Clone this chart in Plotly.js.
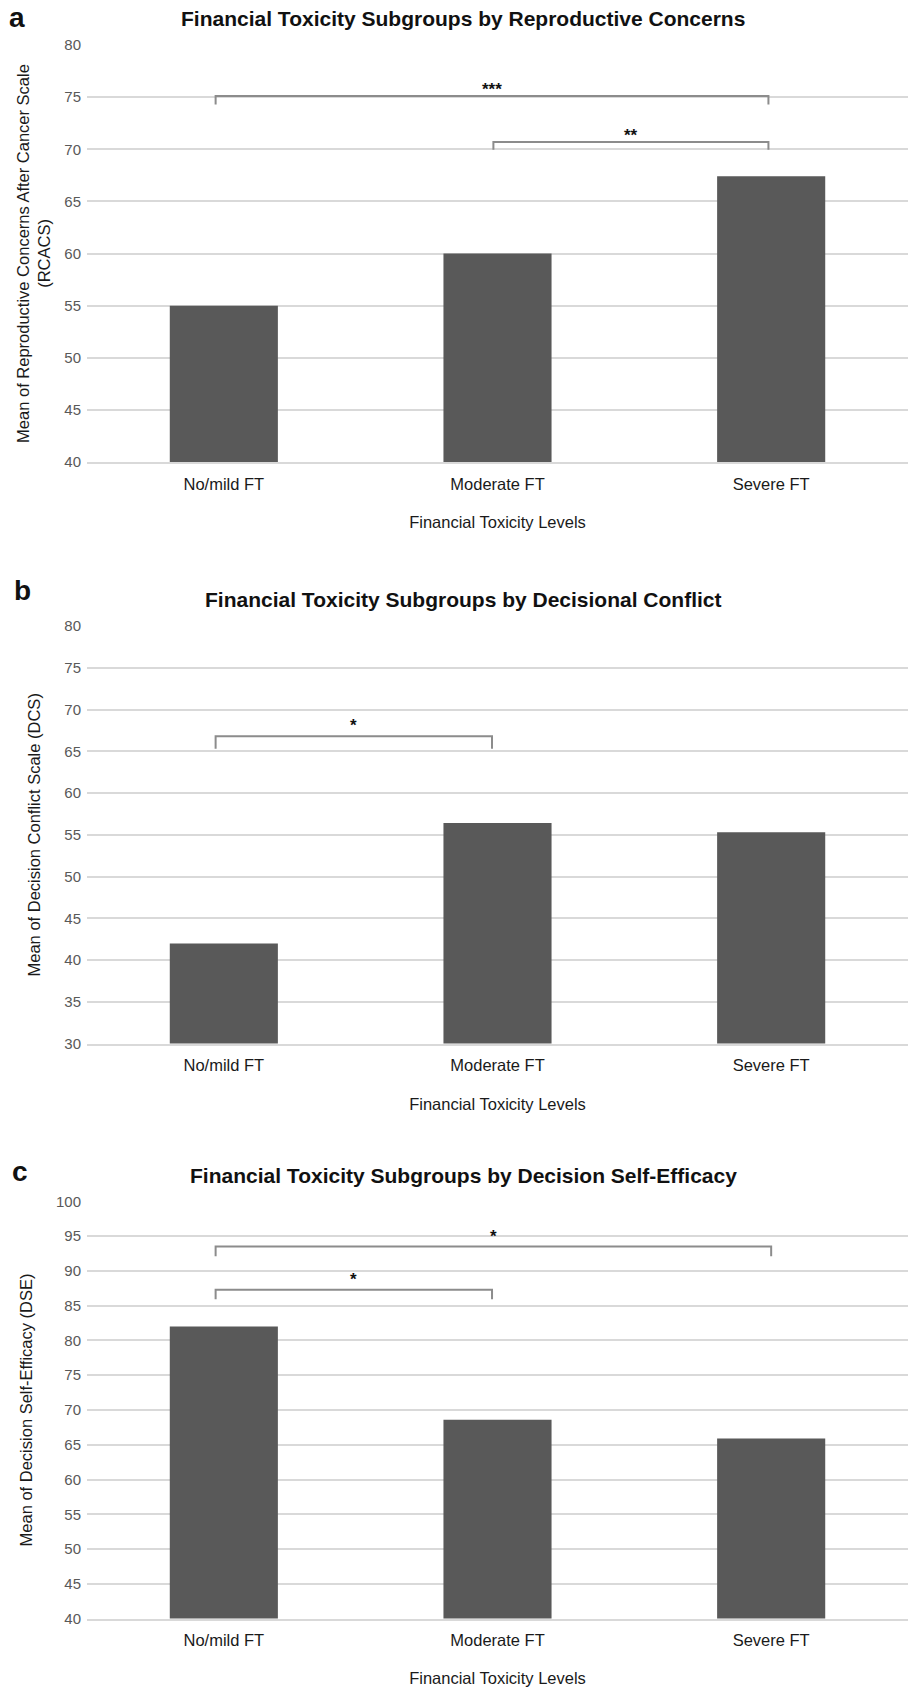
<!DOCTYPE html>
<html>
<head>
<meta charset="utf-8">
<script src="https://cdn.plot.ly/plotly-3.0.1.min.js"></script>
<style>html,body{margin:0;padding:0;background:#fff;}#chart{width:914px;height:1687px;}</style>
</head>
<body>
<div id="chart"></div>
<script>
// ---- data ----
const categories = ['No/mild FT', 'Moderate FT', 'Severe FT'];
const rcacsMeans = [55.0, 60.0, 67.4];
const dcsMeans = [42.0, 56.4, 55.3];
const dseMeans = [82.0, 68.6, 65.9];

const panelLetters = ['a', 'b', 'c'];
const panelTitles = [
  'Financial Toxicity Subgroups by Reproductive Concerns',
  'Financial Toxicity Subgroups by Decisional Conflict',
  'Financial Toxicity Subgroups by Decision Self-Efficacy'
];
const yTitles = [
  'Mean of Reproductive Concerns After Cancer Scale<br>(RCACS)',
  'Mean of Decision Conflict Scale (DCS)',
  'Mean of Decision Self-Efficacy (DSE)'
];
const xTitle = 'Financial Toxicity Levels';
const yRanges = [[40, 80], [30, 80], [40, 100]];

// significance brackets: [from, to, level, drop, label]
const bracketsA = [[-0.03, 1.99, 75.1, 0.8, '***'], [0.985, 1.99, 70.7, 0.75, '**']];
const bracketsB = [[-0.03, 0.98, 66.8, 1.5, '*']];
const bracketsC = [[-0.03, 2.0, 93.5, 1.4, '*'], [-0.03, 0.98, 87.3, 1.4, '*']];

// ---- layout helpers ----
const W = 914, H = 1687;
const xDom = [87 / W, 908 / W];
const plotPx = [[45, 462], [626, 1043.6], [1201.3, 1618.6]]; // top,bottom pixel
const titlePx = [19, 599, 1175.5];
const letterPx = [[17, 18], [22, 590], [20, 1171]];
const yTitleStandoff = [9, 19, 19];
const starShift = [-5, -1, -1];
const seriesList = [rcacsMeans, dcsMeans, dseMeans];
const bracketList = [bracketsA, bracketsB, bracketsC];

const BAR = '#595959', GRID = '#d9d9d9', BRACKET = '#8c8c8c';
const FONT = 'Arial, Liberation Sans, Helvetica, sans-serif';

const traces = [];
const layout = {
  width: W, height: H,
  margin: {l: 0, r: 0, t: 0, b: 0},
  paper_bgcolor: '#fff', plot_bgcolor: '#fff',
  showlegend: false,
  bargap: 0.605,
  font: {family: FONT, color: '#222'},
  shapes: [], annotations: []
};

for (let i = 0; i < 3; i++) {
  const s = i === 0 ? '' : String(i + 1);
  traces.push({
    type: 'bar', x: categories, y: seriesList[i],
    xaxis: 'x' + s, yaxis: 'y' + s,
    marker: {color: BAR, line: {width: 0}},
    hoverinfo: 'x+y'
  });
  const top = 1 - plotPx[i][0] / H, bot = 1 - plotPx[i][1] / H;
  layout['xaxis' + s] = {
    domain: xDom, anchor: 'y' + s, type: 'category',
    showgrid: false, zeroline: false,
    showline: true, linecolor: GRID, linewidth: 2,
    ticks: '', ticklabelstandoff: 6,
    tickfont: {family: FONT, size: 16.5, color: '#1a1a1a'},
    title: {text: xTitle, font: {family: FONT, size: 16.5, color: '#1a1a1a'}, standoff: 25},
    fixedrange: true
  };
  layout['yaxis' + s] = {
    domain: [bot, top], anchor: 'x' + s,
    range: yRanges[i], dtick: 5, tick0: 0,
    showgrid: true, gridcolor: GRID, gridwidth: 2,
    zeroline: false, showline: false, ticks: '', ticklabelstandoff: 5,
    tickfont: {family: FONT, size: 15, color: '#595959'},
    title: {text: yTitles[i], font: {family: FONT, size: 16.5, color: '#1a1a1a'}, standoff: yTitleStandoff[i]},
    fixedrange: true
  };
  // panel title
  layout.annotations.push({
    xref: 'paper', yref: 'paper', x: 463 / W, y: 1 - titlePx[i] / H,
    xanchor: 'center', yanchor: 'middle', showarrow: false,
    text: '<b>' + panelTitles[i] + '</b>',
    font: {family: FONT, size: 21, color: '#111'}
  });
  // panel letter
  layout.annotations.push({
    xref: 'paper', yref: 'paper', x: letterPx[i][0] / W, y: 1 - letterPx[i][1] / H,
    xanchor: 'center', yanchor: 'middle', showarrow: false,
    text: '<b>' + panelLetters[i] + '</b>',
    font: {family: FONT, size: 28, color: '#111'}
  });
  // brackets
  bracketList[i].forEach(b => {
    const [x0, x1, yl, d, lab] = b;
    layout.shapes.push({
      type: 'path', xref: 'x' + s, yref: 'y' + s,
      path: `M ${x0},${yl - d} L ${x0},${yl} L ${x1},${yl} L ${x1},${yl - d}`,
      line: {color: BRACKET, width: 2}
    });
    layout.annotations.push({
      xref: 'x' + s, yref: 'y' + s, x: (x0 + x1) / 2, y: yl,
      xanchor: 'center', yanchor: 'bottom', yshift: starShift[i], showarrow: false,
      text: '<b>' + lab + '</b>',
      font: {family: FONT, size: 17, color: '#111'}
    });
  });
}

Plotly.newPlot('chart', traces, layout, {staticPlot: true, displayModeBar: false});
</script>
</body>
</html>
